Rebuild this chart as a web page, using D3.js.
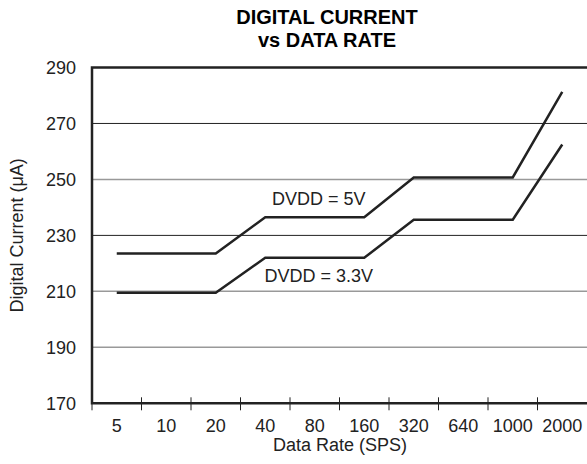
<!DOCTYPE html>
<html>
  <head>
    <style>
      body { margin: 0; padding: 0; background: #fff; overflow: hidden; }
      svg { display: block; font-family: "Liberation Sans", Arial, sans-serif; }
    </style>
    <script src="https://unpkg.com/d3@7.1.1/dist/d3.min.js"></script>
  </head>
  <body>
    <svg width="587" height="464"></svg>
    <script>
      // Datos
      const rates = ['5', '10', '20', '40', '80', '160', '320', '640', '1000', '2000'];
      const dvdd5 = [223.5, 223.5, 223.5, 236.5, 236.5, 236.5, 250.7, 250.7, 250.7, 281.3];
      const dvdd33 = [209.5, 209.5, 209.5, 222.0, 222.0, 222.0, 235.6, 235.6, 235.6, 262.5];
      const yTicks = [170, 190, 210, 230, 250, 270, 290];
      const darkGrid = [270, 230];
      const labels = [
        {text: 'DVDD = 5V', at: '80', value: 241},
        {text: 'DVDD = 3.3V', at: '80', value: 213.3}
      ];

      const svg = d3.select('svg');
      const margin = {left: 92, right: 0, top: 67.5, bottom: 60.7};
      const width = 587, height = 464;

      const x = d3.scaleBand()
        .domain(rates)
        .range([margin.left, width - margin.right]);
      const y = d3.scaleLinear()
        .domain([170, 290])
        .range([height - margin.bottom, margin.top]);
      const bw = x.bandwidth();

      // Título (dos líneas)
      svg.append('g')
        .selectAll('text')
        .data(['DIGITAL CURRENT', 'vs DATA RATE'])
        .enter()
        .append('text')
        .attr('x', 327)
        .attr('y', (d, i) => 24 + i * 22.5)
        .attr('text-anchor', 'middle')
        .attr('font-weight', 'bold')
        .attr('font-size', 20)
        .text(d => d);

      // Rejilla
      svg.append('g')
        .selectAll('line')
        .data(yTicks.filter(d => d > 170 && d < 290))
        .enter()
        .append('line')
        .attr('x1', margin.left).attr('x2', width)
        .attr('y1', d => y(d)).attr('y2', d => y(d))
        .attr('stroke', d => darkGrid.includes(d) ? '#222' : '#999')
        .attr('stroke-width', d => darkGrid.includes(d) ? 1 : 1.5);

      // Eje Y (solo etiquetas)
      svg.append('g')
        .attr('transform', `translate(${margin.left},0)`)
        .call(d3.axisLeft(y).tickValues(yTicks).tickSize(0).tickPadding(16))
        .call(g => g.select('.domain').remove())
        .call(g => g.selectAll('text')
          .attr('font-size', 18)
          .attr('font-family', '"Liberation Sans", Arial, sans-serif')
          .attr('fill', '#222'));

      // Eje X: marcas en los bordes de cada banda
      svg.append('g')
        .selectAll('line')
        .data(rates)
        .enter()
        .append('line')
        .attr('x1', d => x(d)).attr('x2', d => x(d))
        .attr('y1', y(170) - 6).attr('y2', y(170) + 7)
        .attr('stroke', '#222')
        .attr('stroke-width', 1);

      svg.append('g')
        .attr('transform', `translate(0,${y(170)})`)
        .call(d3.axisBottom(x).tickSize(0).tickPadding(16))
        .call(g => g.select('.domain').remove())
        .call(g => g.selectAll('text')
          .attr('font-size', 18)
          .attr('font-family', '"Liberation Sans", Arial, sans-serif')
          .attr('fill', '#222'));

      // Marco: izquierda, arriba, abajo
      svg.append('path')
        .attr('d', `M${width},${y(290)}H${margin.left}V${y(170)}H${width}`)
        .attr('fill', 'none')
        .attr('stroke', '#222')
        .attr('stroke-width', 2.5);

      // Títulos de ejes
      svg.append('text')
        .attr('x', 340).attr('y', 451)
        .attr('text-anchor', 'middle')
        .attr('font-size', 18)
        .attr('fill', '#222')
        .text('Data Rate (SPS)');
      svg.append('text')
        .attr('transform', `translate(23,${(y(170) + y(290)) / 2}) rotate(-90)`)
        .attr('text-anchor', 'middle')
        .attr('font-size', 18)
        .attr('fill', '#222')
        .text('Digital Current (\u03bcA)');

      // Series
      const line = d3.line()
        .x((d, i) => x(rates[i]) + bw / 2)
        .y(d => y(d));
      [dvdd5, dvdd33].forEach(s => {
        svg.append('path')
          .attr('d', line(s))
          .attr('fill', 'none')
          .attr('stroke', '#222')
          .attr('stroke-width', 2.5);
      });

      // Etiquetas de las series
      svg.append('g')
        .selectAll('text')
        .data(labels)
        .enter()
        .append('text')
        .attr('x', d => x(d.at) + bw / 2 + 4)
        .attr('y', d => y(d.value))
        .attr('text-anchor', 'middle')
        .attr('font-size', 18)
        .attr('fill', '#222')
        .text(d => d.text);
    </script>
  </body>
</html>
